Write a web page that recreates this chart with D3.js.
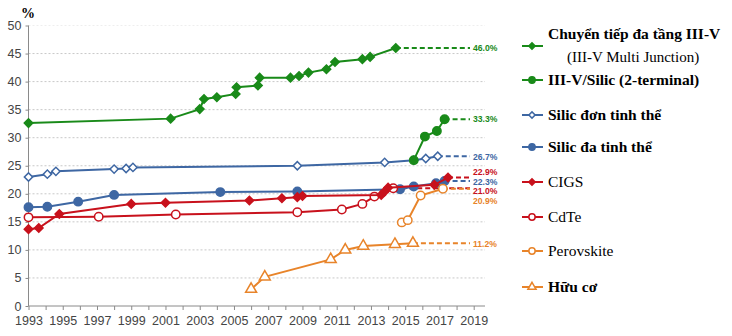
<!DOCTYPE html>
<html>
<head>
<meta charset="utf-8">
<script src="https://cdn.jsdelivr.net/npm/d3@7"></script>
<style>
  body { margin: 0; background: #fff; }
  svg { display: block; }
</style>
</head>
<body>
<div class="chart"></div>
<script>
// Record efficiencies (%) per cell technology, as [year, value]
const multiJunction = [[1993, 32.6], [2001.3, 33.4], [2003.0, 35.1], [2003.25, 36.9], [2004.0, 37.2],
  [2005.1, 37.8], [2005.15, 39.0], [2006.4, 39.3], [2006.5, 40.7], [2008.3, 40.7], [2008.8, 41.0],
  [2009.35, 41.6], [2010.4, 42.2], [2010.9, 43.5], [2012.5, 44.0], [2012.95, 44.4], [2014.45, 46.0]];
const siliconTandem = [[2015.5, 26.0], [2016.15, 30.2], [2016.85, 31.2], [2017.3, 33.3]];
const monoSilicon = [[1993, 23.0], [1994.1, 23.5], [1994.6, 24.0], [1998.0, 24.4], [1998.7, 24.5],
  [1999.1, 24.7], [2008.7, 25.0], [2013.8, 25.6], [2015.5, 26.0], [2016.2, 26.3], [2016.9, 26.7]];
const multiSilicon = [[1993, 17.6], [1994.1, 17.7], [1995.9, 18.6], [1998.0, 19.8], [2004.2, 20.3],
  [2008.7, 20.4], [2014.7, 20.8], [2015.5, 21.3], [2016.8, 21.9], [2017.3, 22.3]];
const cigs = [[1993, 13.7], [1993.6, 13.9], [1994.8, 16.4], [1999.0, 18.2], [2001.0, 18.4],
  [2005.9, 18.8], [2007.8, 19.2], [2008.7, 19.4], [2009.0, 19.6], [2013.6, 19.8], [2013.8, 20.4],
  [2014.0, 21.1], [2016.7, 21.6], [2017.5, 22.9]];
const cdte = [[1993, 15.8], [1997.1, 15.9], [2001.6, 16.3], [2008.7, 16.7], [2011.3, 17.2],
  [2012.5, 18.2], [2013.2, 19.5], [2014.3, 21.0]];
const perovskite = [[2014.8, 14.9], [2015.15, 15.3], [2015.9, 19.7], [2017.2, 20.9]];
const organic = [[2006.0, 3.0], [2006.8, 5.2], [2010.65, 8.3], [2011.5, 10.0], [2012.55, 10.7],
  [2014.4, 11.0], [2015.45, 11.2]];

const yTicks = [0, 5, 10, 15, 20, 25, 30, 35, 40, 45, 50];
const xTickYears = d3.range(1993, 2020);
const xLabelYears = d3.range(1993, 2020, 2);

const green = "#198a19", blue = "#3e67a3", red = "#c8111c", orange = "#e8842a";

// Series styling: marker kind, colour, label nudge and legend placement
const series = [
  { data: monoSilicon, color: blue, marker: "diamondOpen", dy: 1, legend: ["Silic đơn tinh thể"], bold: true, ly: 115 },
  { data: multiSilicon, color: blue, marker: "circle", dy: 0.6, legend: ["Silic đa tinh thể"], bold: true, ly: 147 },
  { data: cdte, color: red, marker: "circleOpen", dy: 2.8, legend: ["CdTe"], bold: false, ly: 217 },
  { data: cigs, color: red, marker: "diamond", dy: -5.5, legend: ["CIGS"], bold: false, ly: 182 },
  { data: perovskite, color: orange, marker: "circleOpen", dy: 12.5, legend: ["Perovskite"], bold: false, ly: 251 },
  { data: organic, color: orange, marker: "triangle", dy: 1, legend: ["Hữu cơ"], bold: true, ly: 287 },
  { data: siliconTandem, color: green, marker: "circle", dy: 0, legend: ["III-V/Silic  (2-terminal)"], bold: true, ly: 80 },
  { data: multiJunction, color: green, marker: "diamond", dy: 0, legend: ["Chuyển tiếp đa tầng III-V", "(III-V Multi  Junction)"], bold: true, ly: 46 }
];

const width = 732, height = 336;
const x = d3.scaleLinear().domain([1993, 2019.66]).range([28.5, 485]);
const y = d3.scaleLinear().domain([0, 50]).range([306, 25.5]);

const svg = d3.select(".chart").append("svg")
  .attr("width", width)
  .attr("height", height);

// Dotted horizontal grid
svg.append("g")
  .selectAll("line")
  .data(yTicks.filter(d => d > 0))
  .join("line")
  .attr("x1", x(1993)).attr("x2", x(2019.66))
  .attr("y1", d => y(d)).attr("y2", d => y(d))
  .attr("stroke", d => d === 50 ? "#eee" : "#c8c8c8")
  .attr("stroke-dasharray", "2,2");

// Axes
const xAxis = svg.append("g")
  .attr("transform", `translate(0, ${y(0)})`)
  .call(d3.axisBottom(x).tickValues(xTickYears).tickSize(4)
    .tickFormat(d => xLabelYears.includes(d) ? d3.format("d")(d) : ""));
const yAxis = svg.append("g")
  .attr("transform", `translate(${x(1993)}, 0)`)
  .call(d3.axisLeft(y).tickValues(yTicks).tickSize(3));

[xAxis, yAxis].forEach(ax => {
  ax.select(".domain").attr("stroke", "#8a8a8a");
  ax.selectAll(".tick line").attr("stroke", "#8a8a8a");
  ax.selectAll("text")
    .attr("fill", "#444")
    .style("font-family", "'Liberation Sans', Arial, sans-serif")
    .style("font-size", "12.5px");
});
xAxis.selectAll("text").attr("dy", "0.95em");
yAxis.selectAll("text").attr("x", -7);
xAxis.select(".domain").attr("d", `M${x(1993)},0H${x(2019.66)}`);
yAxis.select(".domain").attr("d", `M0,${y(0)}V${y(50)}`);

svg.append("text")
  .attr("x", 21).attr("y", 18)
  .style("font-family", "'Liberation Serif', serif")
  .style("font-weight", "bold")
  .style("font-size", "14px")
  .text("%");

// Marker drawing helper
function drawMarker(sel, kind, color, scale) {
  const k = scale || 1;
  if (kind === "circle" || kind === "circleOpen") {
    sel.append("circle")
      .attr("r", 4.2 * k)
      .attr("fill", kind === "circle" ? color : "#fff")
      .attr("stroke", color)
      .attr("stroke-width", 1.5);
  } else if (kind === "diamond" || kind === "diamondOpen") {
    sel.append("path")
      .attr("d", d3.symbol().type(d3.symbolSquare).size((kind === "diamond" ? 36 : 34) * k * k))
      .attr("transform", "rotate(45)")
      .attr("fill", kind === "diamond" ? color : "#fff")
      .attr("stroke", color)
      .attr("stroke-width", 1.5);
  } else if (kind === "triangle") {
    sel.append("path")
      .attr("d", d3.symbol().type(d3.symbolTriangle).size(52 * k * k))
      .attr("fill", "#fff")
      .attr("stroke", color)
      .attr("stroke-width", 1.5);
  }
}

const line = d3.line().x(d => x(d[0])).y(d => y(d[1]));
const dashEnd = 470;

// Dashed projection from the latest record to the value label
series.forEach(s => {
  const last = s.data[s.data.length - 1];
  svg.append("line")
    .attr("x1", x(last[0])).attr("x2", dashEnd)
    .attr("y1", y(last[1])).attr("y2", y(last[1]))
    .attr("stroke", s.color)
    .attr("stroke-width", 2)
    .attr("stroke-dasharray", "5,3");
});

series.forEach(s => {
  svg.append("path")
    .datum(s.data)
    .attr("d", line)
    .attr("fill", "none")
    .attr("stroke", s.color)
    .attr("stroke-width", 2);
  svg.append("g")
    .selectAll("g")
    .data(s.data)
    .join("g")
    .attr("transform", d => `translate(${x(d[0])}, ${y(d[1])})`)
    .each(function() { drawMarker(d3.select(this), s.marker, s.color); });
});

// End-value labels
series.forEach(s => {
  const last = s.data[s.data.length - 1];
  svg.append("text")
    .attr("x", 473)
    .attr("y", y(last[1]) + s.dy)
    .attr("dy", "0.35em")
    .attr("fill", s.color)
    .style("font-family", "'Liberation Sans', Arial, sans-serif")
    .style("font-weight", "bold")
    .style("font-size", "8.6px")
    .text(last[1].toFixed(1) + "%");
});

// Legend
const legend = svg.append("g");
series.forEach(s => {
  const g = legend.append("g").attr("transform", `translate(532, ${s.ly})`);
  g.append("line")
    .attr("x1", -10).attr("x2", 11)
    .attr("stroke", s.color)
    .attr("stroke-width", 2);
  drawMarker(g, s.marker, s.color, 0.75);

  const t = legend.append("text")
    .style("font-family", "'Liberation Serif', 'Times New Roman', serif")
    .style("font-size", "15.5px")
    .style("font-weight", s.bold ? "bold" : "normal")
    .attr("fill", "#000");
  if (s.legend.length === 1) {
    t.attr("x", 548).attr("y", s.ly).attr("dy", "0.35em").text(s.legend[0]);
  } else {
    t.append("tspan").attr("x", 548).attr("y", 34).attr("dy", "0.35em").text(s.legend[0]);
    t.append("tspan").attr("x", 567).attr("y", 57).attr("dy", "0.35em")
      .style("font-weight", "normal").style("font-size", "15px").text(s.legend[1]);
  }
});
</script>
</body>
</html>
